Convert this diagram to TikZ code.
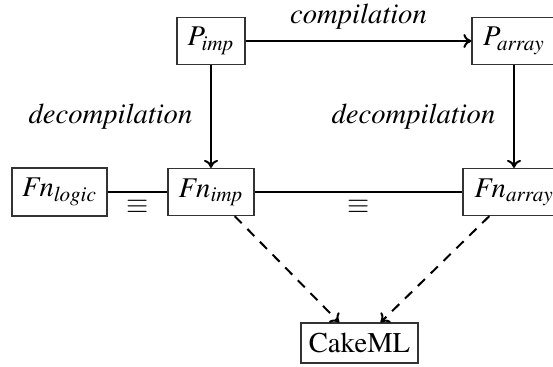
\documentclass[tikz,border=0pt]{standalone}
\usepackage[T1]{fontenc}
\usepackage{mathptmx}
\usetikzlibrary{arrows.meta}
\begin{document}
\begin{tikzpicture}[x=0.5pt,y=-0.5pt,
  font=\fontsize{14.3}{17}\selectfont,
  box/.style={draw=black!80, line width=0.6pt, inner sep=0pt, align=center},
  conn/.style={line width=1pt},
  arr/.style={conn, -{To[length=4pt,width=7pt]}},
  dasharr/.style={arr, dash pattern=on 5pt off 4pt}]
\useasboundingbox (0,0) rectangle (553,366);
\node[box, minimum width=34pt, minimum height=23.5pt] (Pimp) at (211,41) {$P_{\mathit{imp}}$};
\node[box, minimum width=42pt, minimum height=23.5pt] (Parr) at (514,41) {$P_{\mathit{array}}$};
\node[box, minimum width=47.5pt, minimum height=24pt] (Fnlog) at (59.5,192) {$\mathit{Fn}_{\mathit{logic}}$};
\node[box, minimum width=43pt, minimum height=23.5pt] (Fnimp) at (211,192) {$\mathit{Fn}_{\mathit{imp}}$};
\node[box, minimum width=51pt, minimum height=23.5pt] (Fnarr) at (514,192) {$\mathit{Fn}_{\mathit{array}}$};
\node[box, minimum width=58.5pt, minimum height=20pt] (Cake) at (359.5,343) {CakeML};
\draw[arr] (Pimp) -- node[midway, yshift=12pt] {\textit{compilation}} (Parr);
\draw[arr] (Pimp) -- node[midway, anchor=east, xshift=-5.5pt] {\textit{decompilation}} (Fnimp);
\draw[arr] (Parr) -- node[midway, anchor=east, xshift=-5.5pt] {\textit{decompilation}} (Fnarr);
\draw[conn] (Fnlog) -- node[midway, yshift=-7.5pt] {$\equiv$} (Fnimp);
\draw[conn] (Fnimp) -- node[midway, yshift=-7.5pt] {$\equiv$} (Fnarr);
\draw[dasharr] (Fnimp) -- (Cake);
\draw[dasharr] (Fnarr) -- (Cake);
\end{tikzpicture}
\end{document}
